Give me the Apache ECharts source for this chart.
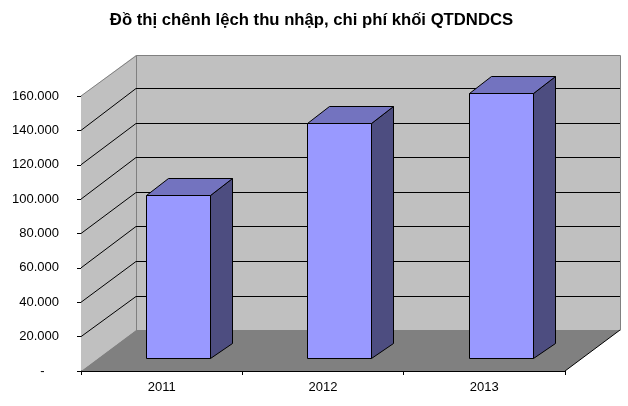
<!DOCTYPE html>
<html>
<head>
<meta charset="utf-8">
<style>html,body{margin:0;padding:0;background:#fff}#c{width:628px;height:406px}</style>
<script src="https://cdn.jsdelivr.net/npm/echarts@6/dist/echarts.min.js"></script>
</head>
<body>
<div id="c"></div>
<script>
const titleText = 'Đồ thị chênh lệch thu nhập, chi phí khối QTDNDCS';
const categories = ['2011', '2012', '2013'];
const values = [95000, 136700, 154200];
const gridValues = [20000, 40000, 60000, 80000, 100000, 120000, 140000];
const yMax = 160000;
const yStep = 20000;

const WALL_DX = 55, WALL_DY = -41;
const BACK_GRID_SCALE = 1.0075;
const BAR_DX = 16.4, BAR_DY = -12.7;
const BAR_DEPTH_DX = 22, BAR_DEPTH_DY_TOP = -17, BAR_DEPTH_DY_BOTTOM = -15;
const BAR_RATIO = 0.397;
const FONT = '"Liberation Sans", Arial, sans-serif';
const s = v => Math.round(v) + 0.5;

const chart = echarts.init(document.getElementById('c'), null, {renderer: 'canvas'});

function frame(api) {
  const band = api.size([1, 0])[0];
  const bl = api.coord([0, 0]);
  const tl = api.coord([0, yMax]);
  const x0 = bl[0] - band / 2;
  const x1 = x0 + band * categories.length;
  return {x0, x1, y0: bl[1], y1: tl[1], band};
}

function renderWalls(params, api) {
  const f = frame(api);
  const bx0 = f.x0 + WALL_DX, bx1 = f.x1 + WALL_DX;
  const by0 = f.y0 + WALL_DY, by1 = f.y1 + WALL_DY;
  return {
    type: 'group',
    children: [
      {type: 'polygon', shape: {points: [[f.x0, f.y0], [f.x0, f.y1], [bx0, by1], [bx0, by0]]},
        style: {fill: '#C0C0C0', stroke: null}},
      {type: 'rect', shape: {x: bx0, y: by1, width: bx1 - bx0, height: by0 - by1},
        style: {fill: '#C0C0C0', stroke: null}},
      {type: 'polygon', shape: {points: [[f.x0, f.y0], [f.x1, f.y0], [bx1, by0], [bx0, by0]]},
        style: {fill: '#808080', stroke: null}},
      {type: 'polyline', shape: {points: [[f.x0, f.y1], [s(bx0), s(by1)], [s(bx1), s(by1)], [s(bx1), s(by0)]]},
        style: {stroke: '#808080', lineWidth: 1, fill: null}},
      {type: 'line', shape: {x1: s(bx0), y1: s(by1), x2: s(bx0), y2: s(by0)},
        style: {stroke: '#808080', lineWidth: 1}},
      {type: 'line', shape: {x1: f.x1, y1: f.y0, x2: bx1, y2: by0},
        style: {stroke: '#000', lineWidth: 1}}
    ]
  };
}

function renderGrid(params, api) {
  const f = frame(api);
  const y = api.coord([0, api.value(0)])[1];
  const bx0 = f.x0 + WALL_DX, bx1 = f.x1 + WALL_DX;
  const by = s(f.y0 + WALL_DY + 0.35 - (f.y0 - y) * BACK_GRID_SCALE);
  return {
    type: 'group',
    children: [
      {type: 'line', shape: {x1: f.x0, y1: y, x2: bx0, y2: by}, style: {stroke: '#000', lineWidth: 1}},
      {type: 'line', shape: {x1: bx0, y1: by, x2: bx1, y2: by}, style: {stroke: '#000', lineWidth: 1}}
    ]
  };
}

function renderBar(params, api) {
  const i = api.value(0), v = api.value(1);
  const band = api.size([1, 0])[0];
  const w = band * BAR_RATIO;
  const top = api.coord([i, v]), bot = api.coord([i, 0]);
  const l = s(top[0] + BAR_DX - w / 2), r = s(top[0] + BAR_DX + w / 2);
  const t = s(top[1] + BAR_DY), b = s(bot[1] + BAR_DY);
  const dx = BAR_DEPTH_DX, dyT = BAR_DEPTH_DY_TOP, dyB = BAR_DEPTH_DY_BOTTOM;
  const line = {stroke: '#000', lineWidth: 1};
  return {
    type: 'group',
    children: [
      {type: 'polygon', shape: {points: [[r, t], [r + dx, t + dyT], [r + dx, b + dyB], [r, b]]},
        style: Object.assign({fill: '#4D4D80'}, line)},
      {type: 'polygon', shape: {points: [[l, t], [l + dx, t + dyT], [r + dx, t + dyT], [r, t]]},
        style: Object.assign({fill: '#7373BF'}, line)},
      {type: 'rect', shape: {x: l, y: t, width: r - l, height: b - t},
        style: Object.assign({fill: '#9999FF'}, line)}
    ]
  };
}

chart.setOption({
  animation: false,
  backgroundColor: '#fff',
  title: {
    text: titleText, left: 306.5, top: 7, textAlign: 'center',
    textStyle: {fontFamily: FONT, fontSize: 16.7, fontWeight: 'bold', color: '#000'}
  },
  grid: {left: 81, right: 63, top: 96, height: 275},
  xAxis: {
    type: 'category', data: categories,
    axisLine: {lineStyle: {color: '#000', width: 1}},
    axisTick: {show: true, length: 4, lineStyle: {color: '#000'}},
    axisLabel: {fontFamily: FONT, fontSize: 13, color: '#000', margin: 10},
    splitLine: {show: false}
  },
  yAxis: {
    type: 'value', min: 0, max: yMax, interval: yStep,
    axisLine: {show: true, lineStyle: {color: '#000', width: 1}},
    axisTick: {show: true, length: 4, lineStyle: {color: '#000'}},
    axisLabel: {
      fontFamily: FONT, fontSize: 13, color: '#000', margin: 22,
      formatter: v => v === 0 ? '-    ' : String(v / 1000) + '.000'
    },
    splitLine: {show: false}
  },
  series: [
    {type: 'custom', name: 'walls', coordinateSystem: 'cartesian2d', clip: false, silent: true, z: 1,
      data: [[0]], renderItem: renderWalls},
    {type: 'custom', name: 'grid', coordinateSystem: 'cartesian2d', clip: false, silent: true, z: 2,
      data: gridValues.map(v => [v]), renderItem: renderGrid},
    {type: 'custom', name: 'Chênh lệch', coordinateSystem: 'cartesian2d', clip: false, silent: true, z: 3,
      data: values.map((v, i) => [i, v]), encode: {x: 0, y: 1}, renderItem: renderBar}
  ]
});
</script>
</body>
</html>
